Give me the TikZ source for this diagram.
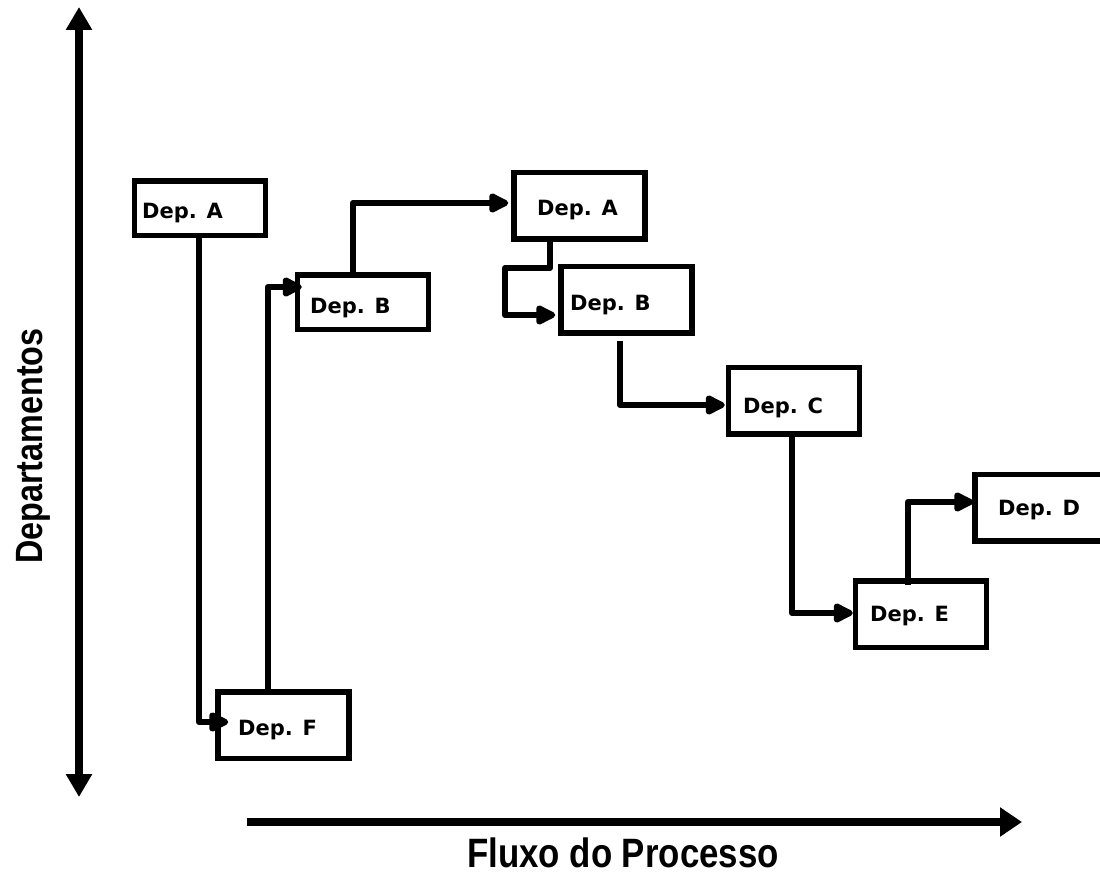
\documentclass[tikz,border=0pt]{standalone}
\usepackage{fontspec}
\usetikzlibrary{arrows.meta}
\newfontfamily\boxfont{DejaVu Sans Bold}
\newfontfamily\axisfont[FakeStretch=0.85]{Liberation Sans Bold}
\tikzset{
  depbox/.style={draw=black, line width=5.5pt, rectangle, inner sep=0pt,
    minimum width=131pt, minimum height=66.5pt},
  depsmall/.style={depbox, minimum height=54.5pt},
  deptext/.style={inner sep=0pt, anchor=base west,
    font=\boxfont\fontsize{21}{21}\selectfont},
  conn/.style={line width=6pt, line join=round,
    -{Triangle[length=23pt,width=21pt,round]}},
  axisline/.style={line width=8pt},
  axislabel/.style={inner sep=0pt}
}
\begin{document}
\begin{tikzpicture}[x=1pt,y=-1pt]
\useasboundingbox (0,0) rectangle (1100,875);
\clip (0,0) rectangle (1100,875);

% axes
\coordinate (yTop) at (79,7);
\coordinate (yBot) at (79,797);
\coordinate (xStart) at (247,822);
\coordinate (xEnd) at (1022,822);
\draw[axisline, {Triangle[length=23pt,width=25pt]}-{Triangle[length=23pt,width=25pt]}] (yTop) -- (yBot);
\draw[axisline, -{Triangle[length=22pt,width=28pt]}] (xStart) -- (xEnd);
\node[axislabel, anchor=base, font=\axisfont\fontsize{41}{41}\selectfont] (lblX) at (623,867) {Fluxo do Processo};
\node[axislabel, rotate=90, font=\axisfont\fontsize{38}{38}\selectfont] (lblY) at (33.5,446) {Departamentos};

% department boxes
\node[depsmall] (A1) at (200,208) {};
\node[depsmall] (B1) at (363,302) {};
\node[depbox] (F)  at (283.5,725) {};
\node[depbox] (A2) at (579.5,205.5) {};
\node[depbox] (B2) at (626.5,299.5) {};
\node[depbox] (C)  at (794,400.5) {};
\node[depbox] (E)  at (921,614) {};
\node[depbox] (D)  at (1040.5,507.5) {};

% box labels
\node[deptext] (tA1) at (142,218) {Dep. A};
\node[deptext] (tB1) at (310,313) {Dep. B};
\node[deptext] (tF)  at (238,735) {Dep. F};
\node[deptext] (tA2) at (537,215) {Dep. A};
\node[deptext] (tB2) at (570,310) {Dep. B};
\node[deptext] (tC)  at (743,413) {Dep. C};
\node[deptext] (tE)  at (870,621) {Dep. E};
\node[deptext] (tD)  at (998,515) {Dep. D};

% process flow
\coordinate (kAB) at (505,268);
\draw[conn] ([xshift=-1pt]A1.south) |- ([xshift=13pt,yshift=3pt]F.west);
\draw[conn] ([xshift=-15.5pt]F.north) |- ([xshift=7pt,yshift=15pt]B1.west);
\draw[conn] ([xshift=-10pt,yshift=-6pt]B1.north) |- ([xshift=-3pt,yshift=2.5pt]A2.west);
\draw[conn] ([xshift=-29.5pt]A2.south) |- (kAB) |- ([xshift=-3pt,yshift=-15.5pt]B2.west);
\draw[conn] ([xshift=-6.5pt,yshift=-5pt]B2.south) |- ([xshift=-1pt,yshift=-4.5pt]C.west);
\draw[conn] ([xshift=-2pt]C.south) |- ([yshift=1pt]E.west);
\draw[conn] ([xshift=-13pt,yshift=-7pt]E.north) |- ([xshift=1pt,yshift=5.5pt]D.west);
\end{tikzpicture}
\end{document}
